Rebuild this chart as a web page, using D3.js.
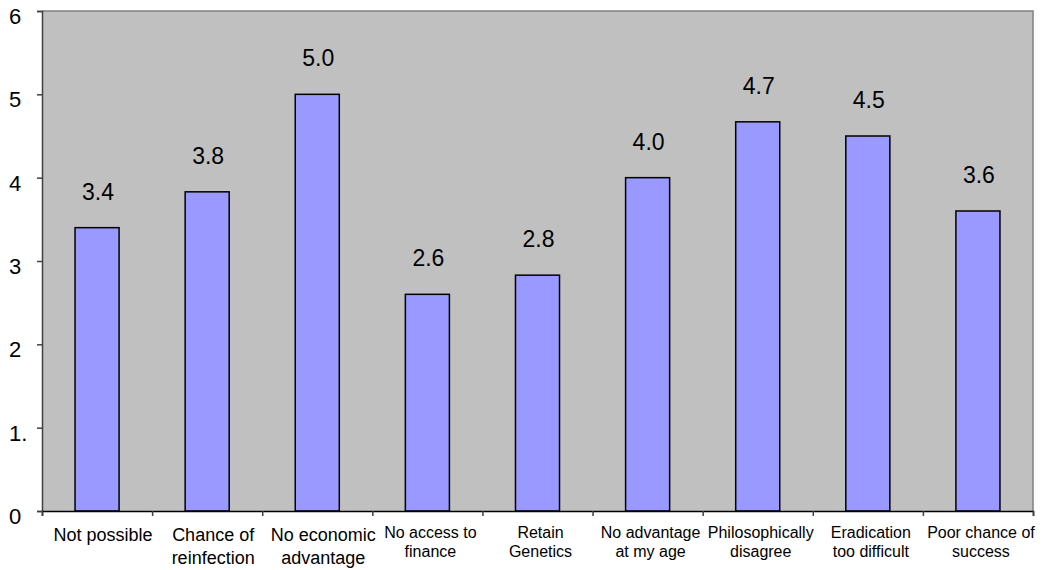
<!DOCTYPE html>
<html>
<head>
<meta charset="utf-8">
<script src="https://cdn.jsdelivr.net/npm/d3@7"></script>
<style>
  html, body { margin: 0; padding: 0; background: #ffffff; }
  svg { display: block; font-family: Arial, "Liberation Sans", sans-serif; }
</style>
</head>
<body>
<svg id="chart" width="1054" height="570"></svg>
<script>
// Reasons given, with their mean scores
const categories = [
  ["Not possible"],
  ["Chance of", "reinfection"],
  ["No economic", "advantage"],
  ["No access to", "finance"],
  ["Retain", "Genetics"],
  ["No advantage", "at my age"],
  ["Philosophically", "disagree"],
  ["Eradication", "too difficult"],
  ["Poor chance of", "success"]
];
const values = [3.4, 3.83, 5.0, 2.6, 2.83, 4.0, 4.67, 4.5, 3.6];
const yTickValues = [0, 1, 2, 3, 4, 5, 6];
const yTickLabels = ["0", "1.", "2", "3", "4", "5", "6"];

const svg = d3.select("#chart");
const plot = { left: 42, right: 1033, top: 11, bottom: 511 };

const x = d3.scaleBand()
  .domain(d3.range(categories.length))
  .range([plot.left, plot.right])
  .paddingInner(0.6)
  .paddingOuter(0.3);

const y = d3.scaleLinear().domain([0, 6]).range([plot.bottom, plot.top]);

// plot area background with grey frame on top/right
svg.append("rect")
  .attr("x", plot.left).attr("y", plot.top)
  .attr("width", plot.right - plot.left).attr("height", plot.bottom - plot.top)
  .attr("fill", "#c0c0c0");
svg.append("path")
  .attr("d", `M${plot.left},${plot.top}H${plot.right}V${plot.bottom}`)
  .attr("fill", "none").attr("stroke", "#808080").attr("stroke-width", 1.5);

// bars
svg.append("g").selectAll("rect")
  .data(values)
  .join("rect")
  .attr("x", (d, i) => x(i))
  .attr("y", d => y(d))
  .attr("width", x.bandwidth())
  .attr("height", d => y(0) - y(d))
  .attr("fill", "#9999ff")
  .attr("stroke", "#000")
  .attr("stroke-width", 1.5);

// value labels above bars
svg.append("g").selectAll("text")
  .data(values)
  .join("text")
  .attr("x", (d, i) => x(i) + x.bandwidth() / 2 + 1)
  .attr("y", d => y(d) - 28)
  .attr("text-anchor", "middle")
  .attr("font-size", 23)
  .attr("fill", "#000")
  .text(d => d3.format(".1f")(d));

// y axis
const yAxis = d3.axisLeft(y)
  .tickValues(yTickValues)
  .tickSize(5)
  .tickFormat("");
const gy = svg.append("g")
  .attr("transform", `translate(${plot.left},0)`)
  .call(yAxis);
gy.select(".domain").attr("stroke", "#404040").attr("stroke-width", 1.5);
gy.selectAll(".tick line").attr("stroke", "#404040").attr("stroke-width", 1.5);

svg.append("g").selectAll("text")
  .data(yTickValues)
  .join("text")
  .attr("x", 9)
  .attr("y", d => y(d) + 13)
  .attr("font-size", 22)
  .attr("fill", "#000")
  .text((d, i) => yTickLabels[i]);

// x axis: ticks at category boundaries
const boundaries = d3.range(categories.length + 1);
const xb = d3.scaleLinear().domain([0, categories.length]).range([plot.left, plot.right]);
const xAxis = d3.axisBottom(xb).tickValues(boundaries).tickSize(5).tickFormat("");
const gx = svg.append("g")
  .attr("transform", `translate(0,${plot.bottom})`)
  .call(xAxis);
gx.select(".domain").attr("stroke", "#000").attr("stroke-width", 1.5);
gx.selectAll(".tick line").attr("stroke", "#404040").attr("stroke-width", 1.5);

// category labels (the first three are set slightly larger)
const labels = svg.append("g").selectAll("text")
  .data(categories)
  .join("text")
  .attr("text-anchor", "middle")
  .attr("font-size", (d, i) => i < 3 ? 18 : 16)
  .attr("fill", "#000");
labels.each(function(lines, i) {
  const t = d3.select(this);
  const cx = x(i) + x.bandwidth() / 2 + (i < 3 ? 6 : 3);
  lines.forEach((line, k) => {
    t.append("tspan")
      .attr("x", cx)
      .attr("y", (i < 3 ? 541 : 538) + k * (i < 3 ? 23 : 19))
      .text(line);
  });
});
</script>
</body>
</html>
